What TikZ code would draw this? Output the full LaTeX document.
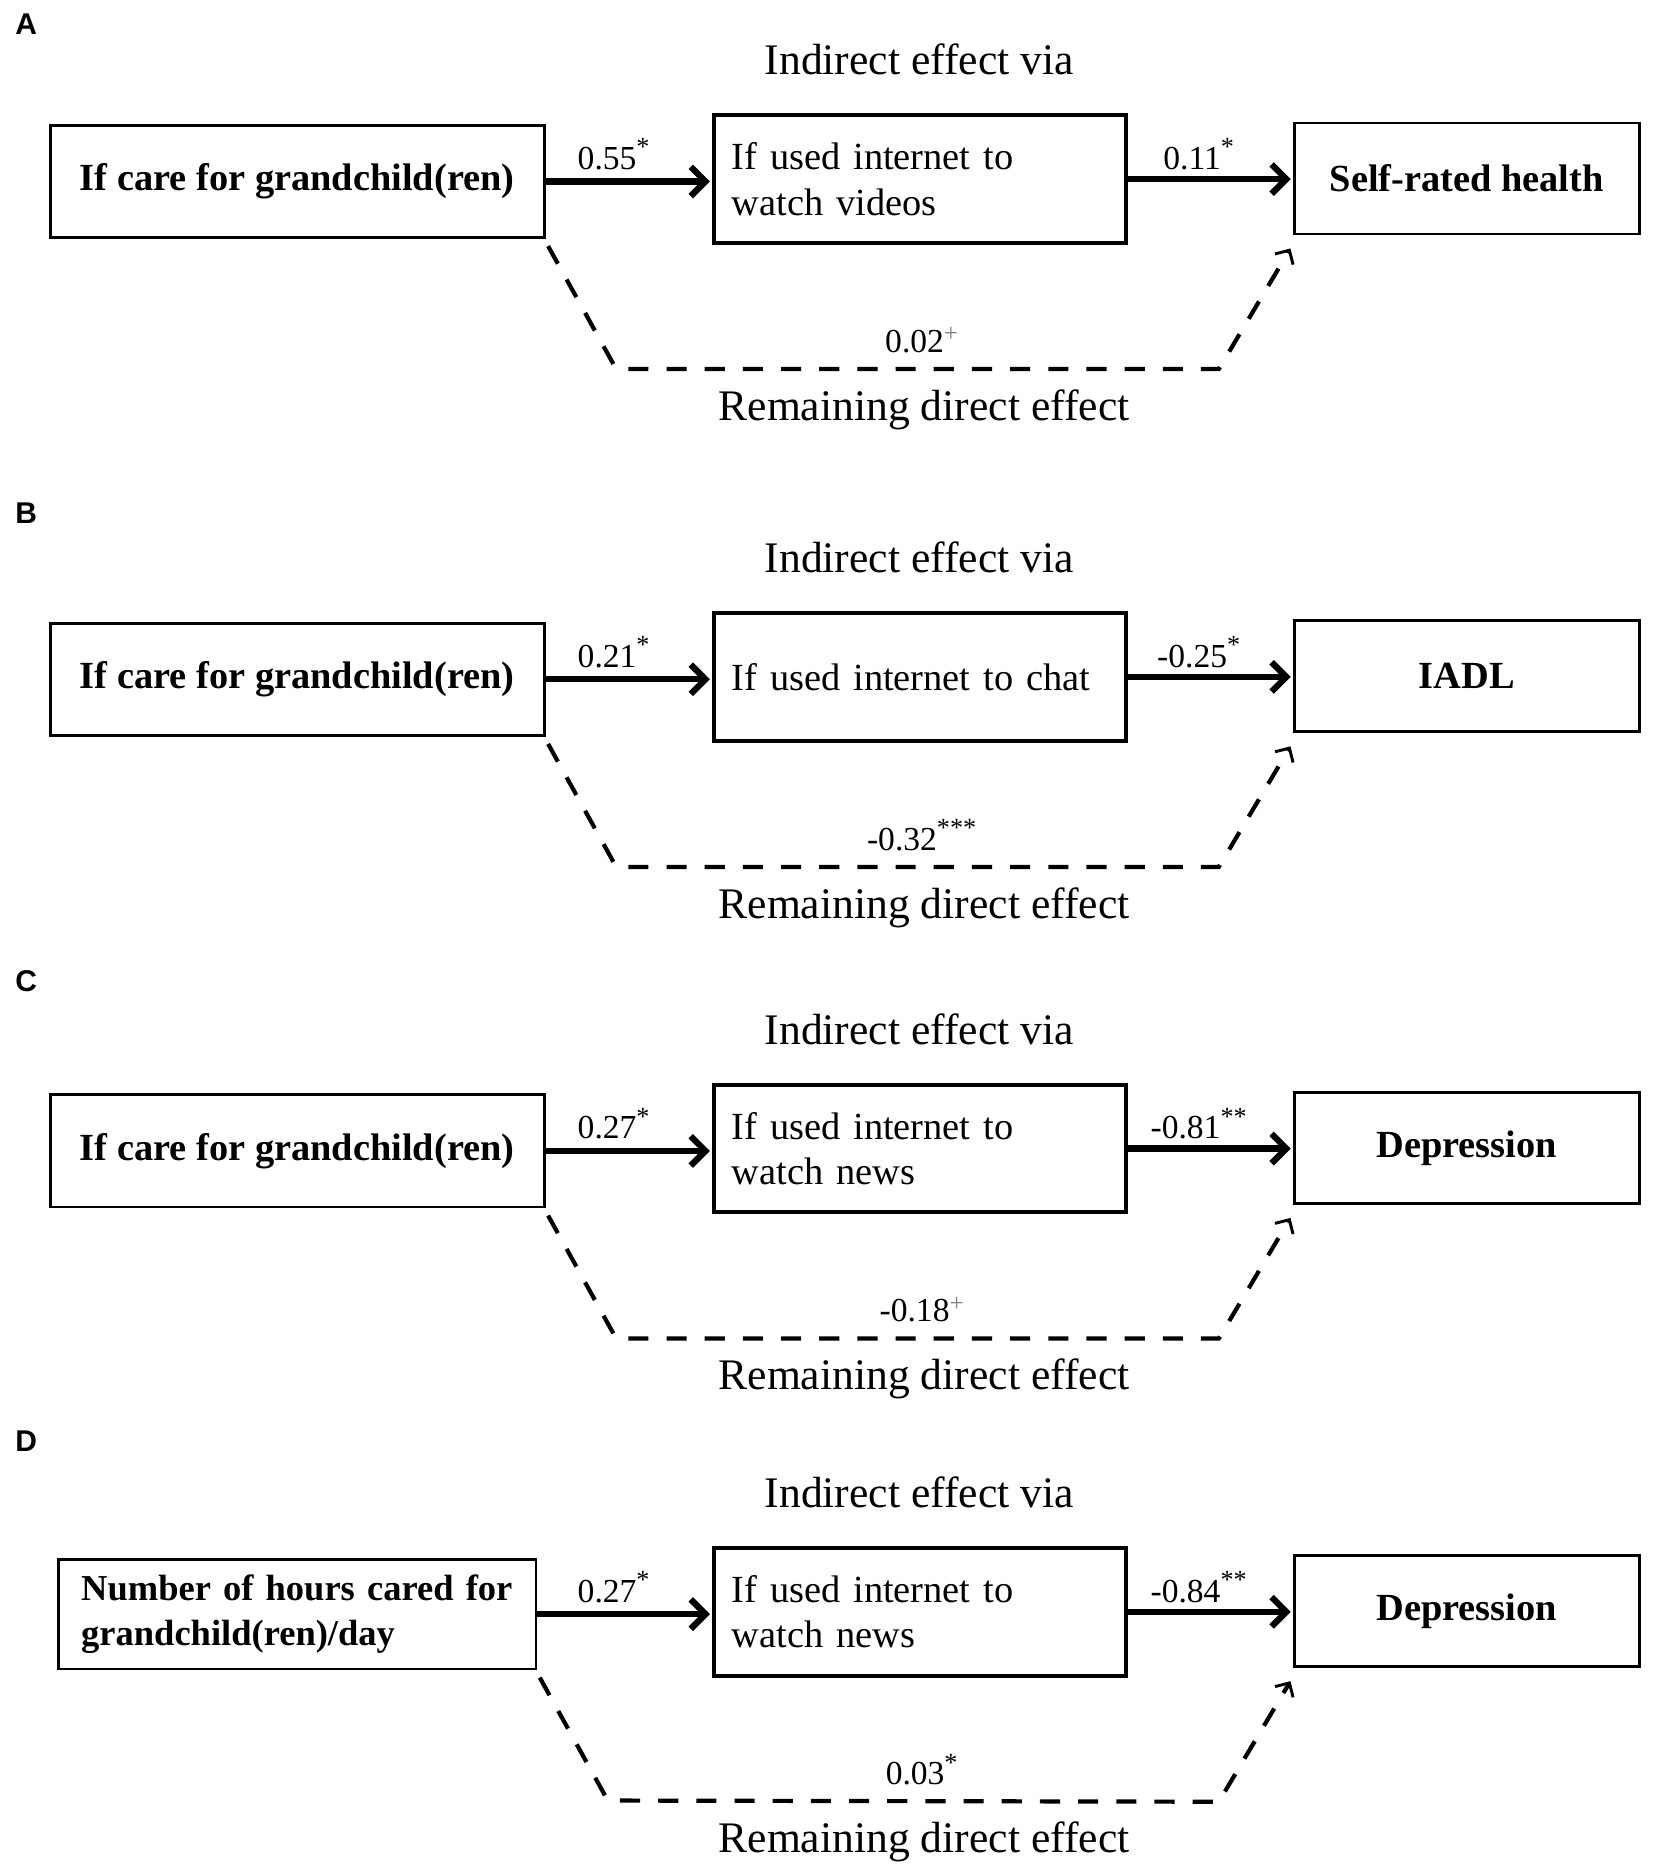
\documentclass[tikz,border=0pt]{standalone}
\usepackage{fontspec}
\setmainfont{Liberation Serif}
\newfontfamily\letterfont{Liberation Sans}
\usetikzlibrary{arrows.meta,calc}
\begin{document}
\begin{tikzpicture}[x=0.02cm,y=-0.02cm,
  lbox/.style={draw, line width=1.3pt, font=\fontsize{18.3}{21.6}\selectfont\bfseries,
    minimum width=8.28cm, minimum height=1.88cm, inner sep=0pt, align=center},
  lboxD/.style={draw, line width=1.3pt, font=\fontsize{17.4}{21.2}\selectfont\bfseries,
    inner xsep=0.38cm, inner ysep=0pt, text width=7.24cm, minimum height=1.84cm, align=left},
  midbox/.style={draw, line width=1.9pt, font=\fontsize{18.3}{21.6}\selectfont,
    inner xsep=0.3cm, inner ysep=0pt, text width=6.3cm, minimum height=2.14cm, align=left},
  rbox/.style={draw, line width=1.3pt, font=\fontsize{18.3}{21.6}\selectfont\bfseries,
    minimum width=5.78cm, minimum height=1.86cm, inner sep=0pt, align=center},
  coef/.style={font=\fontsize{16}{19}\selectfont, inner sep=0pt, anchor=base},
  headtxt/.style={font=\fontsize{20.8}{25}\selectfont, inner sep=0pt},
  panellabel/.style={font=\letterfont\fontsize{14.3}{17}\selectfont\bfseries, inner sep=0pt},
  solidarr/.style={line width=3pt, -{Straight Barb[length=7pt,width=14pt]}, shorten >=1pt},
  dasharr/.style={line width=2pt, dash pattern=on 9.6pt off 8.6pt,
    -{Straight Barb[length=5pt,width=10pt,line width=1.4pt]}}
]
\useasboundingbox (0,0) rectangle (1385,1568);

\newcommand\drawpanel[8]{%
  \node[headtxt] (h#1) at (770,50) {Indirect effect via};
  \node[#3] (l#1) at (249,152) {#2};
  \node[midbox] (m#1) at (770.5,150) {#4};
  \node[rbox] (r#1) at (1228.5,149.5) {#5};
  \draw[solidarr] (l#1.east) -- (l#1.east -| m#1.west);
  \draw[solidarr] (m#1.east) -- (m#1.east -| r#1.west);
  \node[coef] (ca#1) at (514,142) {#6};
  \node[coef] (cb#1) at (1004,142) {#7};
  \node[coef] (cc#1) at (772,295) {#8};
  \coordinate (ds#1) at ($(l#1.south east)+(2,6)$);
  \coordinate (de#1) at ($(r#1.south west)+(-2,11)$);
  \coordinate (dp#1) at ($(ds#1)+(57,103)$);
  \coordinate (dq#1) at ($(de#1)+(-60,101)$);
  \draw[dasharr] (ds#1) -- (dp#1) -- (dq#1) -- (de#1);
  \node[headtxt] (t#1) at (774,343) {Remaining direct effect};
}

\newcommand\sig[1]{\raisebox{6.5pt}{\fontsize{12.5}{12.5}\selectfont #1}}
\newcommand\plussig{\raisebox{5pt}{\fontsize{12}{12}\selectfont\color{black!50}+}}

\node[panellabel] (LA) at (22,20) {A};
\node[panellabel] (LB) at (22,430) {B};
\node[panellabel] (LC) at (22,822) {C};
\node[panellabel] (LD) at (22,1207) {D};

\begin{scope}
\drawpanel{A}{If care for grandchild(ren)}{lbox}{If used internet to\\watch videos}{Self-rated health}{0.55\sig{*}}{0.11\sig{*}}{0.02\plussig}
\end{scope}
\begin{scope}[shift={(0,417)}]
\drawpanel{B}{If care for grandchild(ren)}{lbox}{If used internet to chat}{IADL}{0.21\sig{*}}{-0.25\sig{*}}{-0.32\sig{***}}
\end{scope}
\begin{scope}[shift={(0,812)}]
\drawpanel{C}{If care for grandchild(ren)}{lbox}{If used internet to\\watch news}{Depression}{0.27\sig{*}}{-0.81\sig{**}}{-0.18\plussig}
\end{scope}
\begin{scope}[shift={(0,1200)}]
\drawpanel{D}{Number of hours cared for\\grandchild(ren)/day}{lboxD}{If used internet to\\watch news}{Depression}{0.27\sig{*}}{-0.84\sig{**}}{0.03\sig{*}}
\end{scope}
\end{tikzpicture}
\end{document}
